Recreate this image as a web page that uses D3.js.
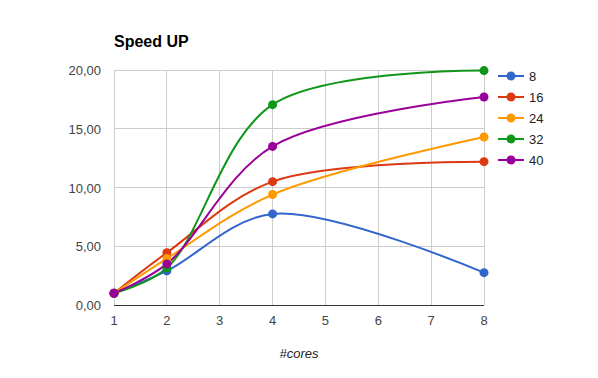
<!DOCTYPE html>
<html><head><meta charset="utf-8">
<script src="https://cdn.jsdelivr.net/npm/d3@7"></script>
<style>body{margin:0;background:#fff}svg{font-family:"Liberation Sans",Arial,sans-serif}</style>
</head><body><svg id="c" width="598" height="378"></svg>
<script>
const cores = [1, 2, 4, 8];
const seriesNames = ["8", "16", "24", "32", "40"];
const s8 = [1.0, 2.9, 7.75, 2.75];
const s16 = [1.0, 4.45, 10.5, 12.2];
const s24 = [1.0, 3.95, 9.4, 14.3];
const s32 = [1.0, 3.15, 17.05, 19.95];
const s40 = [1.0, 3.5, 13.5, 17.7];
const colors = ["#3366cc", "#dc3912", "#ff9900", "#109618", "#990099"];
const xTicks = [1, 2, 3, 4, 5, 6, 7, 8];
const yTicks = [0, 5, 10, 15, 20];
const allSeries = [s8, s16, s24, s32, s40];

const svg = d3.select("#c");
const x = d3.scaleLinear().domain([1, 8]).range([114, 484]);
const y = d3.scaleLinear().domain([0, 20]).range([305, 70]);
const fmt = v => d3.format(".2f")(v).replace(".", ",");

// grid
svg.append("g").selectAll("line").data(yTicks).join("line")
  .attr("x1", 114).attr("x2", 484).attr("y1", d => y(d)).attr("y2", d => y(d))
  .attr("stroke", "#cccccc").attr("shape-rendering", "crispEdges");
svg.append("g").selectAll("line").data(xTicks).join("line")
  .attr("x1", d => x(d)).attr("x2", d => x(d)).attr("y1", 70).attr("y2", 305)
  .attr("stroke", "#cccccc").attr("shape-rendering", "crispEdges");
// baseline
svg.append("line").attr("x1", 114).attr("x2", 484).attr("y1", y(0)).attr("y2", y(0))
  .attr("stroke", "#333").attr("shape-rendering", "crispEdges");

// y labels
svg.append("g").selectAll("text").data(yTicks).join("text")
  .attr("x", 101).attr("y", d => y(d) + 5).attr("text-anchor", "end")
  .attr("font-size", 13).attr("fill", "#444").text(fmt);
// x labels
svg.append("g").selectAll("text").data(xTicks).join("text")
  .attr("x", d => x(d)).attr("y", 325).attr("text-anchor", "middle")
  .attr("font-size", 13).attr("fill", "#444").text(d => d);

// title
svg.append("text").attr("x", 114).attr("y", 47).attr("font-size", 16).attr("font-weight", "bold")
  .attr("fill", "#000").text("Speed UP");
// x axis title
svg.append("text").attr("x", 299).attr("y", 358).attr("text-anchor", "middle")
  .attr("font-size", 13).attr("font-style", "italic").attr("fill", "#222").text("#cores");

const line = d3.line().x((d, i) => x(cores[i])).y(d => y(d)).curve(d3.curveCatmullRom.alpha(0.5));

allSeries.forEach((s, k) => {
  svg.append("path").attr("d", line(s)).attr("fill", "none")
    .attr("stroke", colors[k]).attr("stroke-width", 2);
});
allSeries.forEach((s, k) => {
  svg.append("g").selectAll("circle").data(s).join("circle")
    .attr("cx", (d, i) => x(cores[i])).attr("cy", d => y(d)).attr("r", 4.5)
    .attr("fill", colors[k]);
});

// legend
const lg = svg.append("g").selectAll("g").data(seriesNames).join("g")
  .attr("transform", (d, i) => `translate(0,${76 + i * 21})`);
lg.append("line").attr("x1", 498).attr("x2", 524).attr("y1", 0).attr("y2", 0)
  .attr("stroke", (d, i) => colors[i]).attr("stroke-width", 2);
lg.append("circle").attr("cx", 511).attr("cy", 0).attr("r", 4.5).attr("fill", (d, i) => colors[i]);
lg.append("text").attr("x", 529).attr("y", 5).attr("font-size", 13).attr("fill", "#222").text(d => d);
</script></body></html>
